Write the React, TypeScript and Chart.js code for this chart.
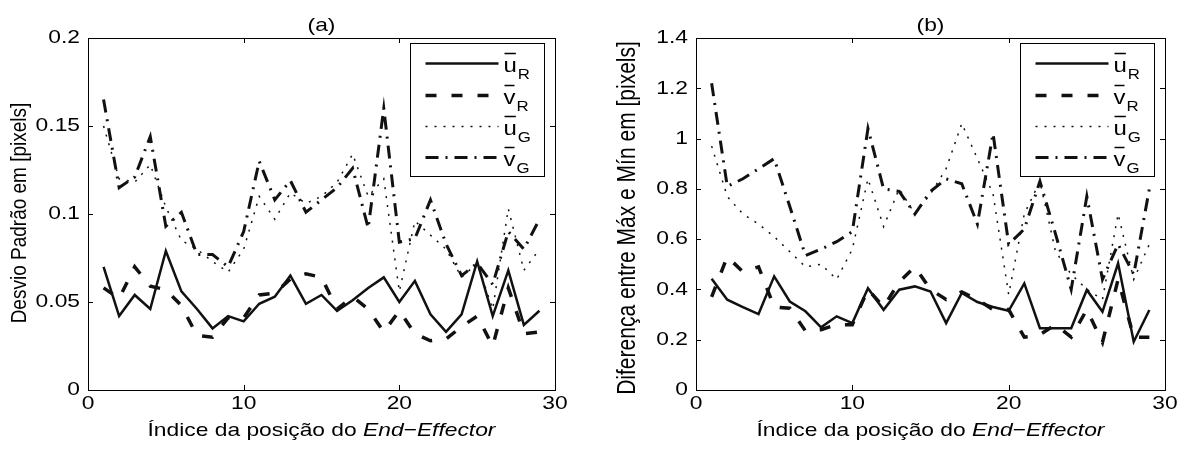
import React, { useEffect, useRef } from "react";
import { Chart, registerables } from "chart.js";

Chart.register(...registerables);

// ---------- data ----------
const positions = [1, 2, 3, 4, 5, 6, 7, 8, 9, 10, 11, 12, 13, 14, 15, 16, 17, 18, 19, 20, 21, 22, 23, 24, 25, 26, 27, 28, 29];

// (a) Desvio Padrão
const uR_a = [0.070, 0.042, 0.054, 0.046, 0.079, 0.056, 0.046, 0.035, 0.042, 0.039, 0.049, 0.053, 0.065, 0.049, 0.054, 0.045, 0.051, 0.058, 0.064, 0.050, 0.062, 0.043, 0.033, 0.043, 0.073, 0.042, 0.068, 0.037, 0.045];
const vR_a = [0.058, 0.052, 0.070, 0.059, 0.057, 0.048, 0.031, 0.030, 0.041, 0.041, 0.054, 0.055, 0.063, 0.066, 0.064, 0.046, 0.053, 0.046, 0.033, 0.045, 0.032, 0.028, 0.029, 0.036, 0.042, 0.025, 0.058, 0.032, 0.033];
const uG_a = [0.150, 0.120, 0.118, 0.128, 0.104, 0.085, 0.080, 0.073, 0.067, 0.080, 0.110, 0.097, 0.112, 0.106, 0.110, 0.118, 0.134, 0.110, 0.120, 0.056, 0.096, 0.088, 0.080, 0.064, 0.072, 0.046, 0.103, 0.068, 0.080];
const vG_a = [0.165, 0.115, 0.121, 0.144, 0.093, 0.101, 0.077, 0.077, 0.070, 0.090, 0.130, 0.108, 0.119, 0.101, 0.108, 0.115, 0.126, 0.092, 0.160, 0.084, 0.086, 0.108, 0.083, 0.065, 0.072, 0.060, 0.090, 0.080, 0.097];

// (b) Diferença entre Máx e Mín
const uR_b = [0.442, 0.359, 0.330, 0.302, 0.452, 0.352, 0.313, 0.249, 0.293, 0.266, 0.405, 0.319, 0.399, 0.412, 0.392, 0.266, 0.386, 0.350, 0.330, 0.315, 0.424, 0.246, 0.246, 0.246, 0.398, 0.311, 0.504, 0.192, 0.318];
const vR_b = [0.370, 0.530, 0.470, 0.490, 0.330, 0.325, 0.235, 0.240, 0.260, 0.260, 0.400, 0.330, 0.430, 0.490, 0.400, 0.360, 0.390, 0.360, 0.320, 0.320, 0.210, 0.220, 0.260, 0.210, 0.320, 0.190, 0.440, 0.210, 0.210];
const uG_b = [0.970, 0.770, 0.700, 0.660, 0.610, 0.550, 0.490, 0.500, 0.440, 0.560, 0.840, 0.650, 0.800, 0.700, 0.780, 0.880, 1.060, 0.920, 0.780, 0.380, 0.700, 0.830, 0.550, 0.460, 0.400, 0.360, 0.700, 0.440, 0.580];
const vG_b = [1.220, 0.810, 0.840, 0.880, 0.920, 0.730, 0.535, 0.560, 0.590, 0.630, 1.040, 0.800, 0.790, 0.700, 0.790, 0.840, 0.820, 0.660, 1.020, 0.580, 0.640, 0.830, 0.620, 0.400, 0.770, 0.440, 0.580, 0.460, 0.800];

const xTicks = [0, 10, 20, 30];
const yTicks_a = [0, 0.05, 0.1, 0.15, 0.2];
const yTicks_b = [0, 0.2, 0.4, 0.6, 0.8, 1, 1.2, 1.4];

const legendLetters = ["u", "v", "u", "v"];
const legendSubs = ["R", "R", "G", "G"];

const titleA = "(a)";
const titleB = "(b)";
const yTitleA = "Desvio Padrão em [pixels]";
const yTitleB = "Diferença entre Máx e Mín em [pixels]";
const xTitleNormal = "Índice da posição do ";
const xTitleItalic = "End\u2212Effector";

// ---------- styles ----------
const FONT = "'Liberation Sans', Arial, sans-serif";
const FS = 19;
const SX = 1.2; // horizontal stretch of the scanned lettering
const INK = "#111";
const styles = [
  { width: 2.5, dash: [] as number[] },
  { width: 3.5, dash: [11, 15] },
  { width: 1.5, dash: [2, 7] },
  { width: 3, dash: [13, 7, 2, 7] },
];

function makeDatasets(series: number[][]) {
  return series.map((vals, i) => ({
    label: legendLetters[i] + legendSubs[i],
    data: positions.map((x, k) => ({ x, y: vals[k] })),
    borderColor: INK,
    borderWidth: styles[i].width,
    borderDash: styles[i].dash,
    pointRadius: 0,
    tension: 0,
    fill: false,
  }));
}

function fmt(v: number) {
  return String(+Number(v).toFixed(3));
}

function drawText(ctx: CanvasRenderingContext2D, text: string, x: number, y: number, align: CanvasTextAlign, font: string) {
  ctx.save();
  ctx.font = font;
  ctx.textBaseline = "middle";
  ctx.textAlign = align;
  ctx.translate(x, y);
  ctx.scale(SX, 1);
  ctx.fillText(text, 0, 0);
  ctx.restore();
}

type Cfg = { title: string; yTitle: string; yTitleX: number; yTitleY: number; yTitleSize: number; yTicks: number[] };

function decorPlugin(cfg: Cfg) {
  return {
    id: "decor",
    afterDraw(chart: any) {
      const ctx = chart.ctx as CanvasRenderingContext2D;
      const a = chart.chartArea;
      const xs = chart.scales.x;
      const ys = chart.scales.y;
      ctx.save();
      // box
      ctx.strokeStyle = "#000";
      ctx.lineWidth = 1;
      ctx.setLineDash([]);
      ctx.strokeRect(Math.round(a.left) + 0.5, Math.round(a.top) + 0.5, Math.round(a.right - a.left), Math.round(a.bottom - a.top));
      // inward ticks
      const tl = 5;
      ctx.beginPath();
      xTicks.forEach((v) => {
        const px = Math.round(xs.getPixelForValue(v)) + 0.5;
        ctx.moveTo(px, a.bottom);
        ctx.lineTo(px, a.bottom - tl);
        ctx.moveTo(px, a.top);
        ctx.lineTo(px, a.top + tl);
      });
      cfg.yTicks.forEach((v) => {
        const py = Math.round(ys.getPixelForValue(v)) + 0.5;
        ctx.moveTo(a.left, py);
        ctx.lineTo(a.left + tl, py);
        ctx.moveTo(a.right, py);
        ctx.lineTo(a.right - tl, py);
      });
      ctx.stroke();

      ctx.fillStyle = "#000";
      const font = `${FS}px ${FONT}`;
      // tick labels
      xTicks.forEach((v) => {
        drawText(ctx, fmt(v), xs.getPixelForValue(v), 404, "center", font);
      });
      cfg.yTicks.forEach((v) => {
        drawText(ctx, fmt(v), a.left - 8, ys.getPixelForValue(v), "right", font);
      });

      // title
      drawText(ctx, cfg.title, (a.left + a.right) / 2, 26, "center", font);

      // y title
      ctx.save();
      ctx.font = `${cfg.yTitleSize}px ${FONT}`;
      ctx.textAlign = "center";
      ctx.textBaseline = "middle";
      ctx.translate(cfg.yTitleX, cfg.yTitleY);
      ctx.scale(SX, 1);
      ctx.rotate(-Math.PI / 2);
      ctx.fillText(cfg.yTitle, 0, 0);
      ctx.restore();

      // x title (mixed normal / italic)
      ctx.save();
      ctx.textAlign = "left";
      ctx.textBaseline = "middle";
      ctx.font = font;
      const w1 = ctx.measureText(xTitleNormal).width;
      ctx.font = `italic ${font}`;
      const w2 = ctx.measureText(xTitleItalic).width;
      const x0 = (a.left + a.right) / 2 - ((w1 + w2) * SX) / 2;
      ctx.translate(x0, 431);
      ctx.scale(SX, 1);
      ctx.font = font;
      ctx.fillText(xTitleNormal, 0, 0);
      ctx.font = `italic ${font}`;
      ctx.fillText(xTitleItalic, w1, 0);
      ctx.restore();

      // legend
      const bw = 134;
      const bh = 133;
      const bx = Math.round(a.right - 11 - bw) + 0.5;
      const by = Math.round(a.top + 5) + 0.5;
      ctx.fillStyle = "#fff";
      ctx.fillRect(bx, by, bw, bh);
      ctx.strokeStyle = "#000";
      ctx.lineWidth = 1;
      ctx.setLineDash([]);
      ctx.strokeRect(bx, by, bw, bh);
      const rows = [20, 52, 83, 114];
      rows.forEach((ry, i) => {
        const y = by + ry;
        ctx.strokeStyle = INK;
        ctx.lineWidth = styles[i].width;
        ctx.setLineDash(styles[i].dash);
        ctx.beginPath();
        ctx.moveTo(bx + 15, y);
        ctx.lineTo(bx + 88, y);
        ctx.stroke();
        ctx.setLineDash([]);
        ctx.fillStyle = "#000";
        const lx = bx + 93;
        ctx.font = `20px ${FONT}`;
        const lw = ctx.measureText(legendLetters[i]).width * SX;
        ctx.save();
        ctx.textBaseline = "alphabetic";
        ctx.textAlign = "left";
        ctx.translate(lx, y + 8);
        ctx.scale(SX, 1);
        ctx.fillText(legendLetters[i], 0, 0);
        ctx.restore();
        ctx.lineWidth = 1.5;
        ctx.strokeStyle = "#000";
        ctx.beginPath();
        ctx.moveTo(lx + 1, y - 10);
        ctx.lineTo(lx + lw - 1, y - 10);
        ctx.stroke();
        ctx.save();
        ctx.font = `14px ${FONT}`;
        ctx.textBaseline = "alphabetic";
        ctx.textAlign = "left";
        ctx.translate(lx + lw + 1, y + 15);
        ctx.scale(SX, 1);
        ctx.fillText(legendSubs[i], 0, 0);
        ctx.restore();
      });
      ctx.restore();
    },
  };
}

function makeConfig(series: number[][], yMax: number, yStep: number, yWidth: number, rightPad: number, cfg: Cfg) {
  return {
    type: "line" as const,
    data: { datasets: makeDatasets(series) },
    options: {
      animation: false as const,
      responsive: false,
      devicePixelRatio: 1,
      layout: { padding: { left: 0, top: 38, right: rightPad, bottom: 0 } },
      plugins: { legend: { display: false }, tooltip: { enabled: false }, title: { display: false } },
      scales: {
        x: {
          type: "linear" as const,
          min: 0,
          max: 30,
          grid: { display: false, drawTicks: false },
          border: { display: false },
          ticks: { display: false, stepSize: 10 },
          afterFit: (s: any) => { s.height = 65; },
        },
        y: {
          type: "linear" as const,
          min: 0,
          max: yMax,
          grid: { display: false, drawTicks: false },
          border: { display: false },
          ticks: { display: false, stepSize: yStep },
          afterFit: (s: any) => { s.width = yWidth; },
        },
      },
    },
    plugins: [decorPlugin(cfg)],
  };
}

function Panel(props: { left: number; width: number; cfg: any }) {
  const ref = useRef<HTMLCanvasElement | null>(null);
  useEffect(() => {
    if (!ref.current) return;
    const chart = new Chart(ref.current, props.cfg);
    return () => chart.destroy();
  }, []);
  return (
    <canvas
      ref={ref}
      width={props.width}
      height={455}
      style={{ position: "absolute", left: props.left, top: 0, width: props.width, height: 455 }}
    />
  );
}

export default function App() {
  const cfgA = makeConfig([uR_a, vR_a, uG_a, vG_a], 0.2, 0.05, 88, 38, {
    title: titleA, yTitle: yTitleA, yTitleX: 20, yTitleY: 213, yTitleSize: 19, yTicks: yTicks_a,
  });
  const cfgB = makeConfig([uR_b, vR_b, uG_b, vG_b], 1.4, 0.2, 103, 22, {
    title: titleB, yTitle: yTitleB, yTitleX: 35, yTitleY: 218, yTitleSize: 21, yTicks: yTicks_b,
  });
  return (
    <div style={{ position: "absolute", left: 0, top: 0, width: 1187, height: 455, background: "#fff" }}>
      <Panel left={0} width={593} cfg={cfgA} />
      <Panel left={593} width={594} cfg={cfgB} />
    </div>
  );
}
